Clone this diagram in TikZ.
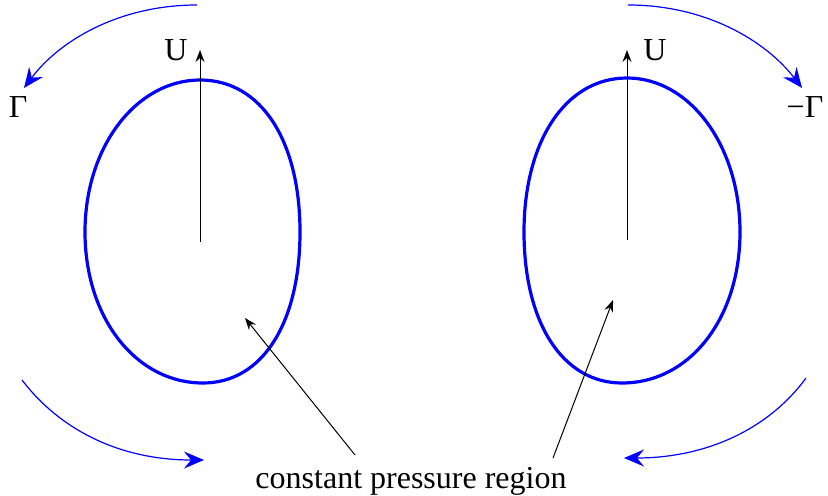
\documentclass[tikz,border=0pt]{standalone}
\usepackage{fontspec}
\setmainfont{Liberation Serif}
\usetikzlibrary{arrows.meta}

\begin{document}
\begin{tikzpicture}[x=0.5pt, y=-0.5pt,
    vortex/.style={blue, line width=0.6pt, -{Stealth[length=10pt, width=8.5pt, inset=3.5pt]}},
    bubble/.style={blue, line width=1.6pt},
    pointer/.style={black, line width=0.5pt, -{Stealth[length=6pt, width=4.5pt, inset=2pt]}},
    lbl/.style={font=\fontsize{16}{19}\selectfont, inner sep=1pt}]
    \useasboundingbox (0,0) rectangle (828,496);

    % left bubble and right bubble
    \draw[bubble] (200,80) .. controls (262,80) and (300,142) .. (300,232)
        .. controls (300,322) and (263,383) .. (203,383)
        .. controls (136,383) and (85,318) .. (85,232)
        .. controls (85,146) and (137,80) .. (200,80) -- cycle;
    \draw[bubble] (627,78) .. controls (690,78) and (740,146) .. (740,232)
        .. controls (740,318) and (690,383) .. (622,383)
        .. controls (562,383) and (524,322) .. (524,232)
        .. controls (524,142) and (565,78) .. (627,78) -- cycle;

    % velocity arrows
    \coordinate (lbase) at (200,242);
    \coordinate (ltip) at (200,50);
    \coordinate (rbase) at (627,240);
    \coordinate (rtip) at (627,50);
    \draw[pointer] (lbase) -- (ltip);
    \draw[pointer] (rbase) -- (rtip);
    \node[lbl] (uleft) at (176,50) {U};
    \node[lbl] (uright) at (655,50) {U};

    % circulation
    \node[lbl] (gleft) at (18,107) {Γ};
    \node[lbl] (gright) at (805,107) {−Γ};
    \coordinate (tl0) at (197,5);
    \coordinate (tl1) at (24,88);
    \coordinate (tr0) at (628,5);
    \coordinate (tr1) at (802,88);
    \coordinate (bl0) at (22,380);
    \coordinate (bl1) at (204,460);
    \coordinate (br0) at (806,378);
    \coordinate (br1) at (624,458);
    \draw[vortex] (tl0) .. controls (120,5) and (60,40) .. (tl1);
    \draw[vortex] (tr0) .. controls (705,5) and (765,40) .. (tr1);
    \draw[vortex] (bl0) .. controls (60,430) and (120,460) .. (bl1);
    \draw[vortex] (br0) .. controls (768,430) and (705,458) .. (br1);

    % region label
    \node[lbl] (region) at (411,481) {constant pressure region};
    \coordinate (pl0) at (355,455);
    \coordinate (pl1) at (245,318);
    \coordinate (pr0) at (553,458);
    \coordinate (pr1) at (613,300);
    \draw[pointer] (pl0) -- (pl1);
    \draw[pointer] (pr0) -- (pr1);
\end{tikzpicture}
\end{document}
